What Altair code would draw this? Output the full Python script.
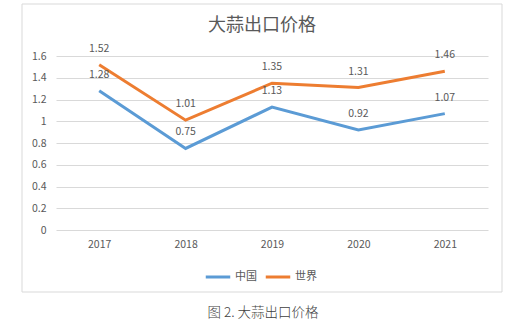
import altair as alt
import pandas as pd

years = ["2017", "2018", "2019", "2020", "2021"]
china = [1.28, 0.75, 1.13, 0.92, 1.07]
world = [1.52, 1.01, 1.35, 1.31, 1.46]
series_names = ["中国", "世界"]
colors = ["#5B9BD5", "#ED7D31"]
y_ticks = [0, 0.2, 0.4, 0.6, 0.8, 1.0, 1.2, 1.4, 1.6]
title_text = "大蒜出口价格"
caption_text = "图 2. 大蒜出口价格"

rows = []
for name, vals in zip(series_names, [china, world]):
    for y, v in zip(years, vals):
        rows.append({"year": y, "series": name, "value": v, "label": f"{v:g}"})
df = pd.DataFrame(rows)

FONT = "Noto Sans CJK SC"
GREY = "#595959"

x_enc = alt.X("year:N", sort=years, scale=alt.Scale(padding=0.5),
              axis=alt.Axis(title=None, labelAngle=0, ticks=False, domain=False, labelPadding=9,
                            labelFont=FONT, labelFontSize=10.5, labelColor=GREY, grid=False))
y_enc = alt.Y("value:Q", scale=alt.Scale(domain=[0, 1.6], nice=False),
              axis=alt.Axis(title=None, values=y_ticks, labelOverlap=False,
                            ticks=False, domain=False, labelPadding=10, labelFont=FONT,
                            labelFontSize=10.5, labelColor=GREY, gridColor="#d9d9d9",
                            labelExpr="format(datum.value, '~g')"))
color_enc = alt.Color("series:N", sort=series_names,
                      scale=alt.Scale(domain=series_names, range=colors),
                      legend=alt.Legend(title=None, orient="none", direction="horizontal",
                                        legendX=148, legendY=207, symbolType="stroke",
                                        symbolStrokeWidth=3, symbolSize=600,
                                        labelFont=FONT, labelFontSize=11, labelColor=GREY,
                                        columnPadding=2, labelOffset=3, symbolOffset=0))

base = alt.Chart(df).encode(x=x_enc, y=y_enc)
lines = base.mark_line(strokeWidth=3).encode(color=color_enc)
labels = base.mark_text(dy=-16, font=FONT, fontSize=10.5, color=GREY).encode(text="label:N")

one = pd.DataFrame({"t": [title_text]})
title = alt.Chart(one).mark_text(font=FONT, fontSize=18, color=GREY).encode(
    text="t:N", x=alt.value(206), y=alt.value(-30))
cap = alt.Chart(pd.DataFrame({"t": [caption_text]})).mark_text(
    font=FONT, fontSize=13.5, fontWeight=300, color="#404040").encode(
    text="t:N", x=alt.value(207), y=alt.value(257))
frame = alt.Chart(one).mark_rect(fill=None, stroke="#d9d9d9", strokeWidth=1).encode(
    x=alt.value(-34), x2=alt.value(446), y=alt.value(-52), y2=alt.value(236))

chart = alt.layer(frame, lines, labels, title, cap).properties(
    width=432, height=174,
    autosize=alt.AutoSizeParams(type="none"),
    padding={"left": 56, "top": 56, "right": 28, "bottom": 100},
    background="white",
).configure_view(stroke=None)

chart.save("out.html", embed_options={"renderer": "svg", "actions": False})
